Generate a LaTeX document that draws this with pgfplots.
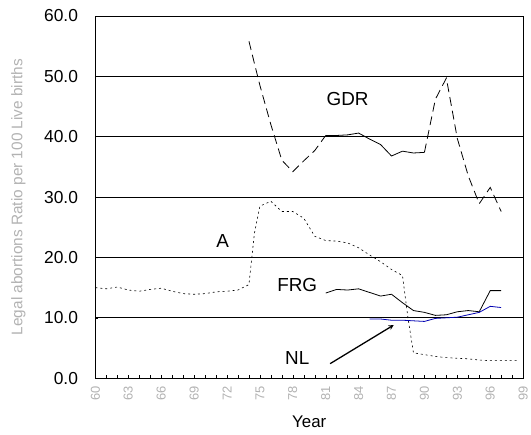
\documentclass[border=0pt]{standalone}
\usepackage{pgfplots}
\pgfplotsset{compat=1.18}
\usepackage{fontspec}
\setmainfont{Liberation Sans}
\begin{document}
\begin{tikzpicture}
\begin{axis}[
  scale only axis, width=431pt, height=365pt,
  xmin=60, xmax=99, ymin=0, ymax=60,
  xtick={60,63,...,99}, minor xtick={60,...,99},
  xticklabel style={rotate=90, font=\fontsize{13}{14}\selectfont, text=gray!60, anchor=east, xshift=-5pt},
  xticklabel={\pgfmathprintnumber[int detect]{\tick}},
  ytick={0,10,...,60},
  yticklabel style={font=\fontsize{17.5}{19}\selectfont, xshift=-14pt},
  /pgf/number format/.cd, fixed, fixed zerofill, precision=1, assume math mode=true,
  /pgfplots/.cd,
  ymajorgrids, major grid style={black, line width=0.8pt},
  tick align=inside, xtick pos=bottom, ytick pos=left,
  major tick length=3pt, minor tick length=3pt,
  every tick/.style={black},
  axis line style={black, line width=0.8pt},
  xlabel={Year}, xlabel style={font=\fontsize{17}{19}\selectfont, at={(axis description cs:0.5,-0.12)}, anchor=center},
  ylabel={Legal abortions Ratio per 100 Live births},
  ylabel style={font=\fontsize{15.5}{17}\selectfont, text=gray!60, at={(axis description cs:-0.18,0.5)}, anchor=center},
  clip=false,
]
\path (rel axis cs:-0.223,-0.156) (rel axis cs:1.009,1.044);
% A
\addplot[black, line width=0.6pt, dash pattern=on 2pt off 3pt] coordinates {
(60,15.0)(61,14.8)(62,15.1)(63,14.6)(64,14.4)(65,14.7)(66,14.9)(67,14.4)(68,14.0)(69,13.9)(70,14.0)(71,14.3)(72,14.4)(73,14.6)(74,15.5)(74.5,24)(75,28.5)(76,29.3)(77,27.6)(78,27.6)(79,26.5)(80,23.5)(81,22.8)(82,22.7)(83,22.4)(84,21.6)(85,20.4)(86,19.3)(87,18.0)(88,17.0)(88.5,10)(89,4.2)(90,3.9)(91,3.6)(92,3.4)(93,3.3)(94,3.2)(95,3.0)(96,2.9)(97,2.9)(98.5,2.9)};
% GDR
\addplot[black, line width=0.8pt, dash pattern=on 9pt off 5pt] coordinates {
(74,55.8)(75,48.5)(76,42)(77,36.1)(78,34.2)(79,36)(80,37.7)(81,40.2)};
\addplot[black, line width=0.8pt] coordinates {
(81,40.2)(82,40.2)(83,40.3)(84,40.6)(85,39.6)(86,38.7)(87,36.8)(88,37.6)(89,37.3)(90,37.4)};
\addplot[black, line width=0.8pt, dash pattern=on 9pt off 5pt] coordinates {
(90,37.4)(91,46.2)(92,49.7)(93,39.7)(94,33.5)(95,28.9)(96,31.6)(97,27.6)};
% FRG
\addplot[black, line width=0.8pt] coordinates {
(81,14.1)(82,14.7)(83,14.6)(84,14.8)(85,14.2)(86,13.6)(87,13.9)(88,12.5)(89,11.2)(90,10.9)(91,10.4)(92,10.5)(93,11.0)(94,11.2)(95,11.0)(96,14.5)(97,14.5)};
% NL
\addplot[blue!70!black, line width=0.8pt] coordinates {
(85,9.8)(86,9.8)(87,9.6)(88,9.6)(89,9.5)(90,9.4)(91,9.9)(92,10.0)(93,10.1)(94,10.5)(95,10.9)(96,11.9)(97,11.7)};
\node[font=\fontsize{19}{21}\selectfont] at (axis cs:83,46.2) {GDR};
\node[font=\fontsize{19}{21}\selectfont] at (axis cs:71.6,22.8) {A};
\node[font=\fontsize{19}{21}\selectfont] at (axis cs:78.4,15.4) {FRG};
\node[font=\fontsize{19}{21}\selectfont] at (axis cs:78.4,3.4) {NL};
\draw[-stealth, line width=1.3pt] (axis cs:81.4,2.4) -- (axis cs:87.2,8.8);
\end{axis}
\end{tikzpicture}
\end{document}
